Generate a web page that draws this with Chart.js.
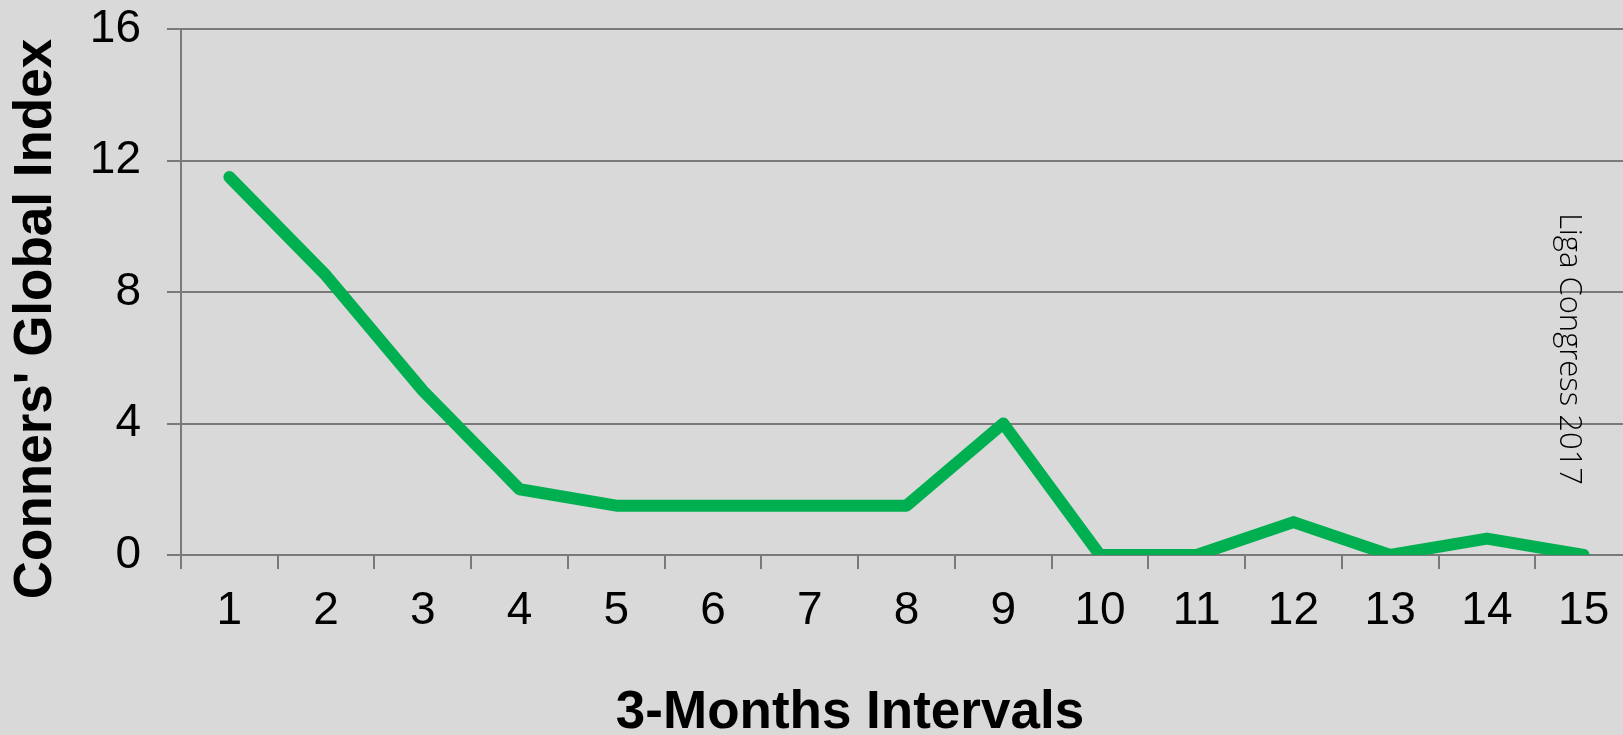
<!DOCTYPE html>
<html>
<head>
<meta charset="utf-8">
<script src="https://cdn.jsdelivr.net/npm/chart.js@4/dist/chart.umd.min.js"></script>
<style>
  html, body { margin: 0; padding: 0; background: #d9d9d9; overflow: hidden; }
  #wrap { position: relative; width: 1632px; height: 735px; }
</style>
</head>
<body>
<div id="wrap"><canvas id="c"></canvas></div>
<script>
const categories = ['1','2','3','4','5','6','7','8','9','10','11','12','13','14','15'];
const conners = [11.5, 8.5, 5, 2, 1.5, 1.5, 1.5, 1.5, 4, 0, 0, 1, 0, 0.5, 0];
const yTicks = [0, 4, 8, 12, 16];
const yTitle = "Conners' Global Index";
const xTitle = "3-Months Intervals";
const watermark = "Liga Congress 2017";

const GRID = '#7a7a7a';
const FONT = '"Liberation Sans", Arial, sans-serif';

const textPlugin = {
  id: 'texts',
  afterDraw(chart) {
    const ctx = chart.ctx;
    ctx.save();
    ctx.fillStyle = '#000';
    ctx.textAlign = 'center';
    ctx.textBaseline = 'middle';
    ctx.font = 'bold 53px ' + FONT;
    ctx.save();
    ctx.translate(36, 319);
    ctx.rotate(-Math.PI / 2);
    ctx.fillText(yTitle, 0, 0);
    ctx.restore();
    ctx.fillText(xTitle, 850, 713);
    ctx.font = '300 31px "Open Sans", sans-serif';
    ctx.save();
    ctx.translate(1569, 349);
    ctx.rotate(Math.PI / 2);
    ctx.fillText(watermark, 0, 0);
    ctx.restore();
    ctx.restore();
  }
};

new Chart(document.getElementById('c'), {
  type: 'line',
  data: {
    labels: categories,
    datasets: [{
      data: conners,
      borderColor: '#00b050',
      backgroundColor: '#00b050',
      borderWidth: 12,
      borderCapStyle: 'round',
      borderJoinStyle: 'round',
      pointRadius: 0,
      tension: 0,
      fill: false
    }]
  },
  options: {
    responsive: true,
    maintainAspectRatio: false,
    animation: false,
    layout: { padding: { top: 0, left: 0, right: 0, bottom: 0 } },
    plugins: { legend: { display: false }, tooltip: { enabled: false } },
    scales: {
      x: {
        offset: true,
        grid: { offset: true, drawOnChartArea: false, drawTicks: true, tickLength: 14, color: GRID, lineWidth: 2 },
        border: { color: GRID, width: 2 },
        ticks: { color: '#000', font: { family: FONT, size: 46 }, padding: 15, maxRotation: 0, autoSkip: false },
        afterFit(scale) { scale.height = 180; }
      },
      y: {
        min: 0, max: 16,
        afterBuildTicks(scale) { scale.ticks = yTicks.map(v => ({ value: v })); },
        grid: { color: GRID, lineWidth: 2, tickLength: 14, drawTicks: true },
        border: { color: GRID, width: 2 },
        ticks: { color: '#000', font: { family: FONT, size: 46 }, padding: 26 },
        afterFit(scale) { scale.width = 181; scale.paddingTop = 29; }
      }
    }
  },
  plugins: [textPlugin]
});
</script>
</body>
</html>
